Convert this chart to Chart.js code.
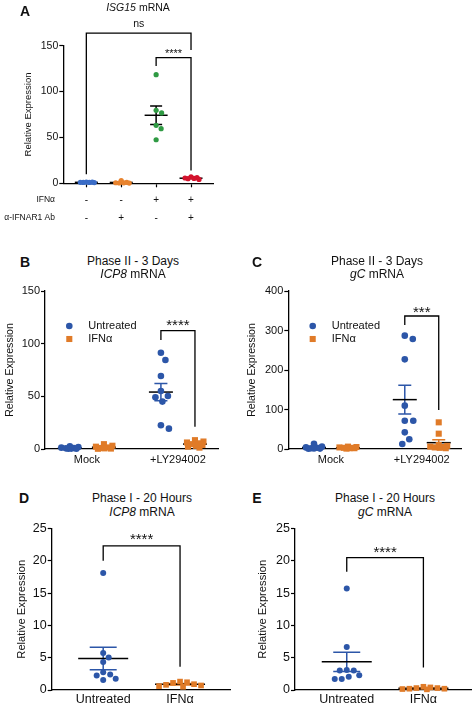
<!DOCTYPE html>
<html lang="en">
<head>
<meta charset="UTF-8">
<title>ISG15, ICP8 and gC mRNA expression</title>
<script src="https://cdn.jsdelivr.net/npm/chart.js"></script>
<style>
  body { margin: 0; background: #fff; }
  #fig { position: relative; width: 475px; height: 705px; overflow: hidden;
         font-family: Arial, 'Liberation Sans', Helvetica, sans-serif; color: #111; }
  #fig canvas { position: absolute; }
  .c { position: absolute; transform: translate(-50%, -50%); white-space: nowrap; line-height: 1.2; }
  .letter { font-weight: bold; font-size: 14px; }
  .ttl { font-size: 12px; }
</style>
</head>
<body>
<div id="fig">
  <canvas id="chartA"></canvas>
  <canvas id="chartB"></canvas>
  <canvas id="chartC"></canvas>
  <canvas id="chartD"></canvas>
  <canvas id="chartE"></canvas>

  <div class="c letter" style="left:25px;top:11px">A</div>
  <div class="c" style="left:138px;top:7px;font-size:10.5px"><i>ISG15</i> mRNA</div>

  <div class="c letter" style="left:25px;top:262px">B</div>
  <div class="c ttl" style="left:133px;top:261px">Phase II - 3 Days</div>
  <div class="c ttl" style="left:133px;top:274px"><i>ICP8</i> mRNA</div>

  <div class="c letter" style="left:257px;top:262px">C</div>
  <div class="c ttl" style="left:377px;top:261px">Phase II - 3 Days</div>
  <div class="c ttl" style="left:377px;top:274px"><i>gC</i> mRNA</div>

  <div class="c letter" style="left:24px;top:498px">D</div>
  <div class="c ttl" style="left:142px;top:498px">Phase I - 20 Hours</div>
  <div class="c ttl" style="left:142px;top:512px"><i>ICP8</i> mRNA</div>

  <div class="c letter" style="left:257px;top:498px">E</div>
  <div class="c ttl" style="left:385px;top:498px">Phase I - 20 Hours</div>
  <div class="c ttl" style="left:385px;top:512px"><i>gC</i> mRNA</div>
</div>

<script>
const FONT = "Arial, 'Liberation Sans', Helvetica, sans-serif";
Chart.defaults.font.family = FONT;
Chart.defaults.color = '#111';

// ---- A: ISG15 mRNA ----
const catsA = [['-', '-'], ['-', '+'], ['+', '-'], ['+', '+']];
const rowLabelsA = ['IFNα', 'α-IFNAR1 Ab'];
const untreatedA = [1.3, 1.0, 0.9, 1.1, 0.8, 1.2];
const antibodyA = [2.9, 1.1, 0.5, 0.3, 0.6, 0.2];
const ifnA = [118.4, 79.6, 76.7, 63.2, 59.5, 47.5];
const ifnAntibodyA = [5.3, 6.9, 6.1, 4.2, 5.8, 5.0];

// ---- B: Phase II - 3 Days, ICP8 ----
const catsB = ['Mock', '+LY294002'];
const untreatedMockB = [2.6, 1.9, 1.3, 0.9, 0.6, 0.4, 0.3, 0.2];
const untreatedLyB = [91.4, 84.5, 69.3, 55.1, 50.3, 49.1, 45.0, 22.5, 19.3];
const ifnMockB = [4.6, 3.1, 2.2, 1.5, 1.0, 0.6, 0.4, 0.2];
const ifnLyB = [8.4, 7.1, 6.2, 5.4, 4.6, 3.8, 3.0, 2.2, 1.3];

// ---- C: Phase II - 3 Days, gC ----
const catsC = ['Mock', '+LY294002'];
const untreatedMockC = [13.0, 6.0, 4.0, 3.0, 2.0, 1.5, 1.0, 0.5];
const untreatedLyC = [286.9, 278.5, 227.0, 109.7, 71.7, 71.7, 42.2, 24.5, 12.7];
const ifnMockC = [6.0, 5.0, 4.0, 3.0, 3.0, 2.0, 2.0, 1.0];
const ifnLyC = [67.5, 38.8, 10.0, 8.0, 6.0, 5.0, 4.0, 3.0, 2.0];

// ---- D: Phase I - 20 Hours, ICP8 ----
const catsD = ['Untreated', 'IFNα'];
const untreatedD = [18.1, 5.74, 5.02, 4.35, 2.76, 2.41, 2.25, 1.74, 1.54];
const ifnD = [1.3, 1.2, 1.1, 0.9, 0.8, 0.7, 0.6, 0.5];

// ---- E: Phase I - 20 Hours, gC ----
const catsE = ['Untreated', 'IFNα'];
const untreatedE = [15.7, 6.65, 3.1, 3.0, 3.0, 2.3, 2.06, 1.7, 1.7];
const ifnE = [0.5, 0.4, 0.3, 0.3, 0.2, 0.2, 0.15, 0.1];

const BLUE_A = '#3a6cc6', ORANGE_A = '#e8832e', GREEN = '#2f9a43', RED = '#d3132d';
const BLUE = '#2c56a8', ORANGE = '#e07b28';
const SHIFT = 0.187; // side-by-side offset of the two series in B and C

function meanSem(v) {
    const n = v.length;
    const m = v.reduce((a, b) => a + b, 0) / n;
    const sd = Math.sqrt(v.reduce((a, b) => a + (b - m) ** 2, 0) / (n - 1));
    return { mean: m, sem: sd / Math.sqrt(n) };
}

// simple beeswarm: spread points that would overlap, returns offsets in category units
function swarm(values, pxPerUnit, pxPerCat, sep, maxHalf) {
    const order = values.map((v, i) => i).sort((a, b) => values[b] - values[a]);
    const cands = [];
    for (let c = 0; c <= maxHalf; c += 0.5) { cands.push(c); if (c) cands.push(-c); }
    const placed = [];
    const offs = new Array(values.length);
    order.forEach(i => {
        const y = values[i] * pxPerUnit;
        let best = 0, bestD = -1;
        for (const c of cands) {
            let dmin = Infinity;
            placed.forEach(p => { dmin = Math.min(dmin, Math.hypot(p.x - c, p.y - y)); });
            if (dmin >= sep) { best = c; break; }
            if (dmin > bestD) { bestD = dmin; best = c; }
        }
        placed.push({ x: best, y: y });
        offs[i] = best / pxPerCat;
    });
    return offs;
}

function overlay(p, groups) {
    return {
        id: 'overlay',
        beforeDatasetsDraw(chart) {
            const { ctx, scales: { x, y } } = chart;
            ctx.save();
            ctx.lineWidth = 1.5;
            groups.forEach(g => {
                const { mean, sem } = meanSem(g.values);
                const cx = x.getPixelForValue(g.x);
                const yt = y.getPixelForValue(mean + sem);
                const yb = y.getPixelForValue(mean - sem);
                const ym = y.getPixelForValue(mean);
                ctx.strokeStyle = g.bar;
                ctx.beginPath();
                ctx.moveTo(cx, yt); ctx.lineTo(cx, yb);
                ctx.moveTo(cx - p.capWidth / 2, yt); ctx.lineTo(cx + p.capWidth / 2, yt);
                ctx.moveTo(cx - p.capWidth / 2, yb); ctx.lineTo(cx + p.capWidth / 2, yb);
                ctx.stroke();
                ctx.strokeStyle = '#000';
                ctx.beginPath();
                ctx.moveTo(cx - p.meanWidth / 2, ym); ctx.lineTo(cx + p.meanWidth / 2, ym);
                ctx.stroke();
            });
            ctx.restore();
        },
        afterDatasetsDraw(chart) {
            const { ctx, scales: { x, y } } = chart;
            ctx.save();
            // significance brackets
            p.brackets.forEach(b => {
                const xl = x.getPixelForValue(b.from), xr = x.getPixelForValue(b.to);
                const yt = y.getPixelForValue(b.top);
                ctx.strokeStyle = '#000';
                ctx.lineWidth = 1.3;
                ctx.beginPath();
                ctx.moveTo(xl, y.getPixelForValue(b.leftEnd));
                ctx.lineTo(xl, yt);
                ctx.lineTo(xr, yt);
                ctx.lineTo(xr, y.getPixelForValue(b.rightEnd));
                ctx.stroke();
                ctx.fillStyle = '#111';
                ctx.font = b.font + 'px ' + FONT;
                ctx.textAlign = 'center';
                ctx.textBaseline = 'alphabetic';
                ctx.fillText(b.text, (xl + xr) / 2, yt - b.gap);
            });
            // legend inside plot
            if (p.legend) {
                const L = p.legend;
                p.series.forEach((s, i) => {
                    const cx = L.x - p.left, cy = L.y - p.top + i * L.gap;
                    ctx.fillStyle = s.color;
                    ctx.beginPath();
                    if (s.style === 'rect') {
                        const h = s.radius * Math.SQRT1_2;
                        ctx.rect(cx - h, cy - h, 2 * h, 2 * h);
                    } else {
                        ctx.arc(cx, cy, s.radius, 0, Math.PI * 2);
                    }
                    ctx.fill();
                    ctx.fillStyle = '#111';
                    ctx.font = L.font + 'px ' + FONT;
                    ctx.textAlign = 'left';
                    ctx.textBaseline = 'middle';
                    ctx.fillText(s.label, L.textX - p.left, cy);
                });
            }
            // row labels for the +/- table (panel A)
            if (p.rowLabels) {
                const R = p.rowLabels;
                ctx.fillStyle = '#111';
                ctx.font = R.font + 'px ' + FONT;
                ctx.textAlign = 'right';
                ctx.textBaseline = 'middle';
                R.texts.forEach((t, i) => ctx.fillText(t, R.right - p.left, R.ys[i] - p.top));
            }
            ctx.restore();
        }
    };
}

function buildPanel(p) {
    const [ax0, ay0, ax1, ay1] = p.area;
    const el = document.getElementById(p.canvas);
    el.style.left = p.left + 'px';
    el.style.top = p.top + 'px';
    el.width = p.width;
    el.height = p.height;

    const pxPerUnit = (ay1 - ay0) / p.yMax;
    const pxPerCat = (ax1 - ax0) / (p.xMax - p.xMin);
    const padLeft = p.yTitleX - p.left - p.titleFont * 1.2 / 2;
    const yWidth = ax0 - p.left - padLeft;
    const xHeight = p.top + p.height - ay1;

    const groups = [];
    const datasets = p.series.map(s => {
        const pts = [];
        s.cats.forEach((c, k) => {
            const vals = s.values[k];
            const cx = c + (s.offset || 0);
            const offs = swarm(vals, pxPerUnit, pxPerCat, p.sep, p.maxHalf);
            vals.forEach((v, i) => pts.push({ x: cx + offs[i], y: v }));
            groups.push({ x: cx, values: vals, bar: s.bar || s.color });
        });
        return {
            label: s.label,
            data: pts,
            backgroundColor: s.color,
            borderColor: s.color,
            pointBackgroundColor: s.color,
            pointBorderWidth: 0,
            borderWidth: 0,
            pointStyle: s.style,
            pointRadius: s.radius,
            pointHoverRadius: s.radius,
            clip: false
        };
    });

    return new Chart(el, {
        type: 'scatter',
        data: { datasets: datasets },
        options: {
            responsive: false,
            animation: false,
            events: [],
            layout: {
                autoPadding: false,
                padding: { left: padLeft, top: ay0 - p.top, right: p.left + p.width - ax1, bottom: 0 }
            },
            plugins: { legend: { display: false }, tooltip: { enabled: false } },
            scales: {
                x: {
                    type: 'linear',
                    min: p.xMin,
                    max: p.xMax,
                    afterBuildTicks: ax => { ax.ticks = p.categories.map((c, i) => ({ value: i })); },
                    afterFit: ax => { ax.height = xHeight; },
                    ticks: {
                        callback: v => p.categories[v],
                        font: { size: p.xTickFont, lineHeight: p.xLineHeight },
                        color: '#111',
                        padding: p.xPad,
                        maxRotation: 0,
                        autoSkip: false
                    },
                    grid: { drawOnChartArea: false, drawTicks: p.xTickMarks, tickLength: 4, color: '#000', tickWidth: 1.2 },
                    border: { display: true, color: '#000', width: 1.3 }
                },
                y: {
                    min: 0,
                    max: p.yMax,
                    afterFit: ax => { ax.width = yWidth; },
                    ticks: { stepSize: p.yStep, font: { size: p.tickFont }, color: '#111', padding: 1 },
                    grid: { drawOnChartArea: false, tickLength: 4, color: '#000', tickWidth: 1.2 },
                    border: { display: true, color: '#000', width: 1.3 },
                    title: {
                        display: true,
                        text: 'Relative Expression',
                        font: { size: p.titleFont },
                        color: '#111',
                        padding: 0
                    }
                }
            }
        },
        plugins: [overlay(p, groups)]
    });
}

buildPanel({
    canvas: 'chartA', left: 0, top: 15, width: 230, height: 215,
    area: [63.3, 45.7, 213, 183.3],
    xMin: -0.66, xMax: 3.63, yMax: 150, yStep: 50,
    categories: catsA,
    tickFont: 10.5, xTickFont: 10, xLineHeight: 1.8, xPad: 3.7, xTickMarks: true,
    titleFont: 9.5, yTitleX: 28,
    series: [
        { label: 'Mock', cats: [0], values: [untreatedA], color: BLUE_A, bar: '#000', style: 'circle', radius: 2.6 },
        { label: 'α-IFNAR1 Ab', cats: [1], values: [antibodyA], color: ORANGE_A, bar: '#000', style: 'circle', radius: 2.6 },
        { label: 'IFNα', cats: [2], values: [ifnA], color: GREEN, bar: '#000', style: 'circle', radius: 2.6 },
        { label: 'IFNα + α-IFNAR1 Ab', cats: [3], values: [ifnAntibodyA], color: RED, bar: '#000', style: 'circle', radius: 2.6 }
    ],
    sep: 5.7, maxHalf: 8, meanWidth: 23, capWidth: 12,
    brackets: [
        { from: 0, to: 3, top: 163.6, leftEnd: 10, rightEnd: 145.4, text: 'ns', font: 10.5, gap: 6.3 },
        { from: 2, to: 3, top: 137, leftEnd: 128, rightEnd: 14, text: '****', font: 11, gap: 0.3 }
    ],
    rowLabels: { right: 55, ys: [200, 218], font: 8.5, texts: rowLabelsA }
});

buildPanel({
    canvas: 'chartB', left: 0, top: 280, width: 235, height: 190,
    area: [45, 291, 218, 449],
    xMin: -0.46, xMax: 1.44, yMax: 150, yStep: 50,
    categories: catsB,
    tickFont: 11, xTickFont: 11, xLineHeight: 1.2, xPad: 4.4, xTickMarks: false,
    titleFont: 10.6, yTitleX: 10,
    series: [
        { label: 'Untreated', cats: [0, 1], values: [untreatedMockB, untreatedLyB], offset: -SHIFT, color: BLUE, style: 'circle', radius: 3.3 },
        { label: 'IFNα', cats: [0, 1], values: [ifnMockB, ifnLyB], offset: SHIFT, color: ORANGE, style: 'rect', radius: 4.3 }
    ],
    sep: 8.3, maxHalf: 9, meanWidth: 24, capWidth: 13,
    brackets: [
        { from: 1 - SHIFT, to: 1 + SHIFT, top: 112.3, leftEnd: 103.5, rightEnd: 21.2, text: '****', font: 15, gap: 0.3 }
    ],
    legend: { x: 69.3, y: 326, gap: 13, textX: 88.3, font: 11 }
});

buildPanel({
    canvas: 'chartC', left: 235, top: 280, width: 240, height: 190,
    area: [288.3, 291, 461.7, 449],
    xMin: -0.47, xMax: 1.44, yMax: 400, yStep: 100,
    categories: catsC,
    tickFont: 11, xTickFont: 11, xLineHeight: 1.2, xPad: 4.4, xTickMarks: false,
    titleFont: 10.6, yTitleX: 251.7,
    series: [
        { label: 'Untreated', cats: [0, 1], values: [untreatedMockC, untreatedLyC], offset: -SHIFT, color: BLUE, style: 'circle', radius: 3.3 },
        { label: 'IFNα', cats: [0, 1], values: [ifnMockC, ifnLyC], offset: SHIFT, color: ORANGE, style: 'rect', radius: 4.3 }
    ],
    sep: 8.3, maxHalf: 9, meanWidth: 24, capWidth: 13,
    brackets: [
        { from: 1 - SHIFT, to: 1 + SHIFT, top: 336.7, leftEnd: 314, rightEnd: 98.7, text: '***', font: 15, gap: -1 }
    ],
    legend: { x: 312.7, y: 326, gap: 13, textX: 331.7, font: 11 }
});

buildPanel({
    canvas: 'chartD', left: 0, top: 520, width: 235, height: 185,
    area: [51.7, 527.3, 230, 690],
    xMin: -0.67, xMax: 1.65, yMax: 25, yStep: 5,
    categories: catsD,
    tickFont: 12.5, xTickFont: 12.5, xLineHeight: 1.2, xPad: 1.8, xTickMarks: false,
    titleFont: 11.2, yTitleX: 22,
    series: [
        { label: 'Untreated', cats: [0], values: [untreatedD], color: BLUE, style: 'circle', radius: 3.0 },
        { label: 'IFNα', cats: [1], values: [ifnD], color: ORANGE, style: 'rect', radius: 4.0 }
    ],
    sep: 7, maxHalf: 22, meanWidth: 50, capWidth: 27,
    brackets: [
        { from: 0, to: 1, top: 22.3, leftEnd: 20, rightEnd: 3.6, text: '****', font: 15, gap: 2.3 }
    ]
});

buildPanel({
    canvas: 'chartE', left: 235, top: 520, width: 240, height: 185,
    area: [295, 528.3, 471.7, 690],
    xMin: -0.675, xMax: 1.63, yMax: 25, yStep: 5,
    categories: catsE,
    tickFont: 12.5, xTickFont: 12.5, xLineHeight: 1.2, xPad: 1.8, xTickMarks: false,
    titleFont: 11.2, yTitleX: 263.3,
    series: [
        { label: 'Untreated', cats: [0], values: [untreatedE], color: BLUE, style: 'circle', radius: 3.0 },
        { label: 'IFNα', cats: [1], values: [ifnE], color: ORANGE, style: 'rect', radius: 4.0 }
    ],
    sep: 7, maxHalf: 22, meanWidth: 50, capWidth: 27,
    brackets: [
        { from: 0, to: 1, top: 20.5, leftEnd: 18.3, rightEnd: 3.5, text: '****', font: 15, gap: 0.3 }
    ]
});
</script>
</body>
</html>
